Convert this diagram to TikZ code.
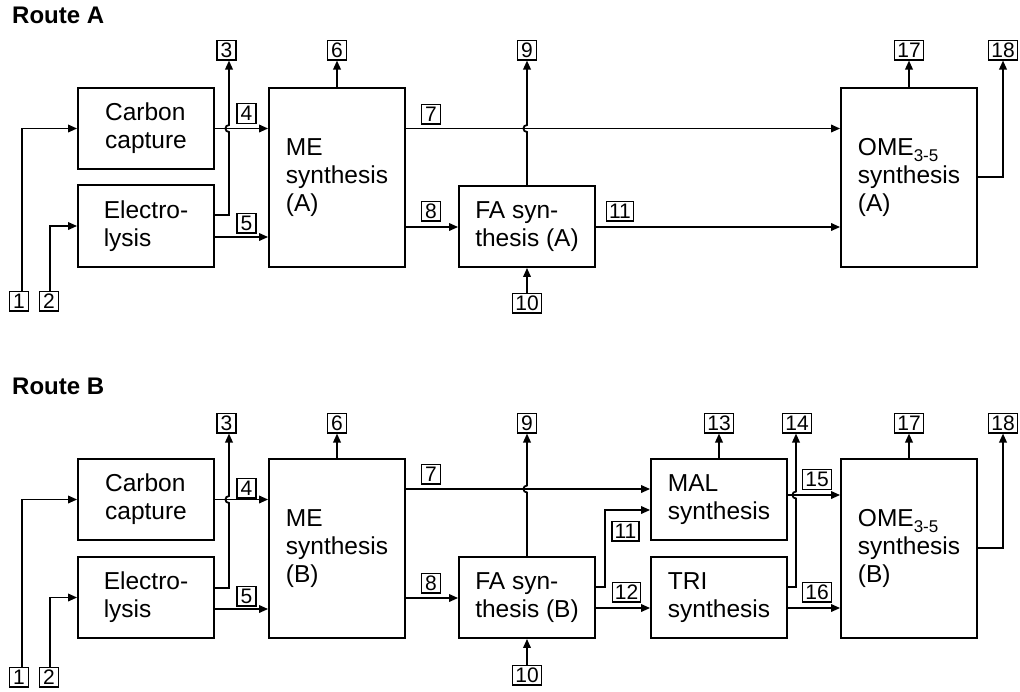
\documentclass[tikz,border=0pt]{standalone}
\usepackage{fontspec}
\setmainfont{Liberation Sans}
\usetikzlibrary{arrows.meta}
\newcommand\bigfnt{\fontsize{24.5}{28}\selectfont}
\newcommand\numfnt{\fontsize{21}{21}\selectfont}
\newcommand\routefnt{\fontsize{24}{28}\selectfont\bfseries}
\newcommand\omesub{OME\raisebox{-6pt}{\fontsize{17}{17}\selectfont 3-5}}
\begin{document}
\begin{tikzpicture}[x=1pt,y=-1pt,
  proc/.style={draw, line width=1.8pt, align=left, font=\bigfnt, inner sep=0pt, minimum width=136pt},
  num/.style={draw, line width=1.4pt, font=\numfnt, inner xsep=2.6pt, inner ysep=2.5pt, text height=14.6pt, text depth=0pt, minimum width=19pt},
  conn/.style={line width=1.8pt, -{Triangle[length=9pt,width=7.5pt]}},
]
\useasboundingbox (0,0) rectangle (1020,691);

% ---------------- Route A ----------------
\node[anchor=base west, font=\routefnt, inner sep=0pt] (tA) at (12,23) {Route A};

\node[proc, minimum height=81pt] (Acc) at (146,128.5) {Carbon\\capture};
\node[proc, minimum height=82pt] (Ael) at (146,226) {Electro-\\lysis};
\node[proc, minimum height=179pt] (Ame) at (337,177.5) {ME\\synthesis\\(A)};
\node[proc, minimum height=81pt] (Afa) at (527,226.5) {FA syn-\\thesis (A)};
\node[proc, minimum height=179pt] (Aome) at (909,177.5) {\omesub\\synthesis\\(A)};

\node[num] (An1) at (19,301) {1};
\node[num] (An2) at (49,301) {2};
\node[num] (An3) at (226.5,50) {3};
\node[num] (An6) at (337,50) {6};
\node[num] (An9) at (527,50) {9};
\node[num] (An10) at (527,303) {10};
\node[num] (An17) at (909,50) {17};
\node[num] (An18) at (1003,50) {18};

\node[num] (AL4) at (246.5,113.5) {4};
\node[num] (AL5) at (246.5,223) {5};
\node[num] (AL7) at (431,114) {7};
\node[num] (AL8) at (431,211) {8};
\node[num] (AL11) at (620,211) {11};

\draw[conn] (An1.north -| 22,0) |- (Acc.west);
\draw[conn] (An2.north -| 50,0) |- (Ael.west);
\draw[conn] (Acc.east) -- (Ame.west |- Acc.east);
\draw[conn] (Ael.east |- 0,237) -- (Ame.west |- 0,237);
\draw[conn] (Ael.east |- 0,215) -- (229,215) -- (229,132) .. controls (224.3,132) and (224.3,125) .. (229,125) -- (An3.south -| 229,0);
\draw[conn] (Ame.north) -- (An6.south);
\draw[conn] (Ame.east |- 0,128.5) -- (Aome.west |- 0,128.5);
\draw[conn] (Ame.east |- 0,227) -- (Afa.west |- 0,227);
\draw[conn] (Afa.north) -- (527,132) .. controls (522.3,132) and (522.3,125) .. (527,125) -- (An9.south);
\draw[conn] (An10.north) -- (Afa.south);
\draw[conn] (Afa.east |- 0,227) -- (Aome.west |- 0,227);
\draw[conn] (Aome.north) -- (An17.south);
\draw[conn] (Aome.east |- 0,177) -| (An18.south);

% ---------------- Route B ----------------
\node[anchor=base west, font=\routefnt, inner sep=0pt] (tB) at (12,394) {Route B};

\node[proc, minimum height=81pt] (Bcc) at (146,499.5) {Carbon\\capture};
\node[proc, minimum height=81pt] (Bel) at (146,597.5) {Electro-\\lysis};
\node[proc, minimum height=179pt] (Bme) at (337,548.5) {ME\\synthesis\\(B)};
\node[proc, minimum height=81pt] (Bfa) at (527,597.5) {FA syn-\\thesis (B)};
\node[proc, minimum height=81pt] (Bmal) at (719,499.5) {MAL\\synthesis};
\node[proc, minimum height=81pt] (Btri) at (719,597.5) {TRI\\synthesis};
\node[proc, minimum height=179pt] (Bome) at (909,548.5) {\omesub\\synthesis\\(B)};

\node[num] (Bn1) at (19,677) {1};
\node[num] (Bn2) at (49,677) {2};
\node[num] (Bn3) at (226.5,423) {3};
\node[num] (Bn6) at (337,423) {6};
\node[num] (Bn9) at (527,423) {9};
\node[num] (Bn10) at (527,675) {10};
\node[num] (Bn13) at (719,423) {13};
\node[num] (Bn14) at (797,423) {14};
\node[num] (Bn17) at (909,423) {17};
\node[num] (Bn18) at (1003,423) {18};

\node[num] (BL4) at (246.5,488) {4};
\node[num] (BL5) at (246.5,596) {5};
\node[num] (BL7) at (431,474) {7};
\node[num] (BL8) at (431,583) {8};
\node[num] (BL11) at (625.5,531) {11};
\node[num] (BL12) at (626.5,592) {12};
\node[num] (BL15) at (817,479.5) {15};
\node[num] (BL16) at (817,592) {16};

\draw[conn] (Bn1.north -| 22,0) |- (Bcc.west);
\draw[conn] (Bn2.north -| 50,0) |- (Bel.west);
\draw[conn] (Bcc.east) -- (Bme.west |- Bcc.east);
\draw[conn] (Bel.east |- 0,609) -- (Bme.west |- 0,609);
\draw[conn] (Bel.east |- 0,588) -- (229,588) -- (229,503) .. controls (224.3,503) and (224.3,496) .. (229,496) -- (Bn3.south -| 229,0);
\draw[conn] (Bme.north) -- (Bn6.south);
\draw[conn] (Bme.east |- 0,489) -- (Bmal.west |- 0,489);
\draw[conn] (Bme.east |- 0,598) -- (Bfa.west |- 0,598);
\draw[conn] (Bfa.north) -- (527,492.5) .. controls (522.3,492.5) and (522.3,485.5) .. (527,485.5) -- (Bn9.south);
\draw[conn] (Bn10.north) -- (Bfa.south);
\draw[conn] (Bfa.east |- 0,587) -- (605,587) |- (Bmal.west |- 0,510);
\draw[conn] (Bfa.east |- 0,608) -- (Btri.west |- 0,608);
\draw[conn] (Bmal.north) -- (Bn13.south);
\draw[conn] (Btri.east |- 0,587) -- (796,587) -- (796,498.5) .. controls (791.3,498.5) and (791.3,491.5) .. (796,491.5) -- (Bn14.south -| 796,0);
\draw[conn] (Bmal.east |- 0,495) -- (Bome.west |- 0,495);
\draw[conn] (Btri.east |- 0,608) -- (Bome.west |- 0,608);
\draw[conn] (Bome.north) -- (Bn17.south);
\draw[conn] (Bome.east |- 0,548) -| (Bn18.south);
\end{tikzpicture}
\end{document}
